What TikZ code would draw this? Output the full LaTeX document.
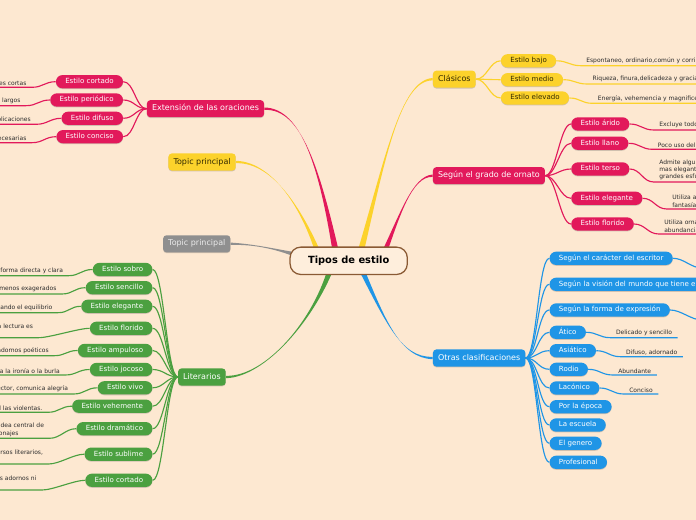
\documentclass[tikz,border=0pt]{standalone}
\usepackage{fontspec}
\newfontfamily\mapfont{DejaVu Sans}
\usetikzlibrary{calc,shadows}
\pgfdeclarelayer{paperlayer}
\pgfdeclarelayer{wirelayer}
\pgfsetlayers{paperlayer,wirelayer,main}

\definecolor{paper}{HTML}{FDE8D1}
\definecolor{rose}{HTML}{E2195B}
\definecolor{sun}{HTML}{FCD22B}
\definecolor{leafgreen}{HTML}{4BA040}
\definecolor{sky}{HTML}{1F95E6}
\definecolor{stone}{HTML}{8F8F8F}
\definecolor{hubfill}{HTML}{FEEEDC}
\definecolor{hubedge}{HTML}{8A5A34}
\definecolor{ink}{HTML}{2C2C2C}
\definecolor{sunink}{HTML}{332A00}

\tikzstyle{lift} = [drop shadow={shadow xshift=0pt, shadow yshift=-0.6pt, opacity=0.25, fill=black!70}]
\tikzstyle{hubbox} = [draw=hubedge, line width=0.95pt, fill=hubfill, rounded corners=8pt, minimum height=20.5pt, inner xsep=13.5pt, inner ysep=0pt, text height=5.4pt, text depth=1.6pt, font=\mapfont\bfseries\fontsize{7.4}{8}\selectfont]
\tikzstyle{limb} = [lift, rounded corners=2.5pt, minimum height=12.8pt, inner xsep=3.8pt, inner ysep=0pt, text height=4.4pt, text depth=1.3pt, text=white, font=\mapfont\fontsize{6}{7}\selectfont]
\tikzstyle{twig} = [lift, rounded corners=5pt, minimum height=10pt, inner xsep=7pt, inner ysep=0pt, text height=3.9pt, text depth=1.1pt, text=white, font=\mapfont\fontsize{5.3}{6}\selectfont]
\tikzstyle{leaf} = [inner xsep=4pt, inner ysep=1.2pt, text=ink, align=left, font=\mapfont\fontsize{4.5}{5.5}\selectfont]
\tikzstyle{leafl} = [leaf, anchor=south east]
\tikzstyle{leafr} = [leaf, anchor=south west]
\tikzstyle{rosebox} = [limb, fill=rose]
\tikzstyle{sunbox} = [limb, fill=sun, text=sunink]
\tikzstyle{greenbox} = [limb, fill=leafgreen]
\tikzstyle{skybox} = [limb, fill=sky]
\tikzstyle{stonebox} = [limb, fill=stone, text=white!92!black]
\tikzstyle{rosetwig} = [twig, fill=rose]
\tikzstyle{suntwig} = [twig, fill=sun, text=sunink]
\tikzstyle{greentwig} = [twig, fill=leafgreen]
\tikzstyle{skytwig} = [twig, fill=sky]
\tikzstyle{fork} = [to path={.. controls +(11,0) and +(-11,0) .. (\tikztotarget)}]
\tikzstyle{backfork} = [to path={.. controls +(-11,0) and +(11,0) .. (\tikztotarget)}]
\tikzstyle{wire} = [line width=0.85pt]

\newcommand{\mapbranch}[6]{\fill[#1] ($#2-#6$) .. controls #3 and #4 .. ($(#5)+(0,-1.2)$) -- ($(#5)+(0,1.2)$) .. controls #4 and #3 .. ($#2+#6$) -- cycle;}

\begin{document}
\begin{tikzpicture}[x=0.75pt, y=-0.75pt]

    \begin{pgfonlayer}{paperlayer}
    \fill [paper] (0,0) rectangle (696,520);
    \end{pgfonlayer}
    \useasboundingbox (0,0) rectangle (696,520);
    \clip (0,0) rectangle (696,520);
    \coordinate (lft) at (-6,0);
    \coordinate (rgt) at (702,0);

    \node (hub) [hubbox] at (348.7,260.8) {Tipos de estilo};

    \node (ext) [rosebox, anchor=east] at (264.3,108.7) {Extensión de las oraciones};
    \node (topa) [sunbox, anchor=east] at (236,162) {Topic principal};
    \node (topb) [stonebox, anchor=east] at (230.7,243.8) {Topic principal};
    \node (lit) [greenbox, anchor=east] at (226,377) {Literarios};
    \node (cla) [sunbox, anchor=west] at (432.7,79.2) {Clásicos};
    \node (orn) [rosebox, anchor=west] at (432.7,175.7) {Según el grado de ornato};
    \node (oth) [skybox, anchor=west] at (432.7,358) {Otras clasificaciones};

    % Clasicos
    \node (bajo) [suntwig, anchor=west] at (500.7,60.8) {Estilo bajo};
    \node (medio) [suntwig, anchor=west] at (500.7,79.7) {Estilo medio};
    \node (elev) [suntwig, anchor=west] at (500.7,98) {Estilo elevado};
    \node (bajol) [leafr] at (580.7,65.7) {Espontaneo, ordinario,común y corri};
    \node (mediol) [leafr] at (587,84) {Riqueza, finura,delicadeza y gracia};
    \node (elevl) [leafr] at (592.3,103.3) {Energía, vehemencia y magnifice};

    % ornato
    \node (arid) [rosetwig, anchor=west] at (571,124) {Estilo árido};
    \node (llan) [rosetwig, anchor=west] at (571,143.3) {Estilo llano};
    \node (ters) [rosetwig, anchor=west] at (571,169) {Estilo terso};
    \node (eleg) [rosetwig, anchor=west] at (571,198.3) {Estilo elegante};
    \node (flor) [rosetwig, anchor=west] at (571,224) {Estilo florido};
    \node (aridl) [leafr] at (653.7,130) {Excluye todo};
    \node (llanl) [leafr] at (652.3,149.3) {Poco uso del};
    \node (tersl) [leafr] at (653.7,182) {Admite algu\\mas elegant\\grandes esfu};
    \node (elegl) [leafr] at (666.7,209) {Utiliza a\\fantasía};
    \node (florl) [leafr] at (658.7,234) {Utiliza orna\\abundancia};

    % otras
    \node (car) [skytwig, anchor=west] at (549.3,258.3) {Según el carácter del escritor};
    \node (vis) [skytwig, anchor=west, text width=150pt, align=left] at (549.3,284.3) {Según la visión del mundo que tiene el};
    \node (for) [skytwig, anchor=west] at (549.3,310) {Según la forma de expresión};
    \node (atic) [skytwig, anchor=west] at (549.3,332.3) {Ático};
    \node (asia) [skytwig, anchor=west] at (549.3,350.7) {Asiático};
    \node (rodi) [skytwig, anchor=west] at (549.3,369.3) {Rodio};
    \node (laco) [skytwig, anchor=west] at (549.3,388) {Lacónico};
    \node (epoc) [skytwig, anchor=west] at (549.3,406.7) {Por la época};
    \node (escu) [skytwig, anchor=west] at (549.3,425) {La escuela};
    \node (gene) [skytwig, anchor=west] at (549.3,443.3) {El genero};
    \node (prof) [skytwig, anchor=west] at (549.3,462.3) {Profesional};
    \node (aticl) [leafr] at (610.4,337.7) {Delicado y sencillo};
    \node (asial) [leafr] at (620.4,356.7) {Difuso, adornado};
    \node (rodil) [leafr] at (612.7,375) {Abundante};
    \node (lacol) [leafr] at (623.7,394) {Conciso};
    \coordinate (carend) at (702,268);
    \coordinate (forend) at (702,320);

    % extension
    \node (cort) [rosetwig, anchor=east] at (123.3,81.7) {Estilo cortado};
    \node (peri) [rosetwig, anchor=east] at (123.3,100) {Estilo periódico};
    \node (difu) [rosetwig, anchor=east] at (123.3,118.3) {Estilo difuso};
    \node (conc) [rosetwig, anchor=east] at (123.3,136.7) {Estilo conciso};
    \node (cortl) [leafl] at (32,87.3) {es cortas};
    \node (peril) [leafl] at (26,105.7) {largos};
    \node (diful) [leafl] at (36.3,124.3) {plicaciones};
    \node (concl) [leafl] at (32,142.7) {ecesarias};

    % literarios
    \node (sobr) [greentwig, anchor=east] at (152.7,269.5) {Estilo sobro};
    \node (senc) [greentwig, anchor=east] at (152.7,287.7) {Estilo sencillo};
    \node (lele) [greentwig, anchor=east] at (152.7,306.3) {Estilo elegante};
    \node (lflo) [greentwig, anchor=east] at (152.7,328.3) {Estilo florido};
    \node (ampu) [greentwig, anchor=east] at (152.7,350.5) {Estilo ampuloso};
    \node (joco) [greentwig, anchor=east] at (152.7,369.5) {Estilo jocoso};
    \node (vivo) [greentwig, anchor=east] at (152.7,387.8) {Estilo vivo};
    \node (vehe) [greentwig, anchor=east] at (152.7,406.2) {Estilo vehemente};
    \node (dram) [greentwig, anchor=east] at (152.7,428.7) {Estilo dramático};
    \node (subl) [greentwig, anchor=east] at (152.7,454.2) {Estilo sublime};
    \node (lcor) [greentwig, anchor=east] at (152.7,480.3) {Estilo cortado};
    \node (sobrl) [leafl] at (68.6,275.7) {forma directa y clara};
    \node (sencl) [leafl] at (62,294) {menos exagerados};
    \node (lelel) [leafl] at (58,312.7) {lando el equilibrio};
    \node (lflol) [leafl] at (38.6,337.7) {a lectura es\\~};
    \node (ampul) [leafl] at (54.3,355.7) {adornos poéticos};
    \node (jocol) [leafl] at (65.3,375) {a la ironía o la burla};
    \node (vivol) [leafl] at (73.6,394) {ector, comunica alegría};
    \node (vehel) [leafl] at (48,412.3) {l las violentas.};
    \node (draml) [leafl] at (49.6,438.3) {idea central de\\onajes};
    \node (subll) [leafl] at (48.6,464) {ursos literarios,\\~};
    \node (lcorl) [leafl] at (42,490) {s adornos ni\\~};

    \begin{pgfonlayer}{wirelayer}
    \clip (0,0) rectangle (696,520);
    \mapbranch{rose}{(hub)+(-11.7,-2.8)}{(320,170)}{(302,108)}{ext.east}{(3.4,0)}
    \mapbranch{sun}{(hub)+(-28.7,-2.8)}{(305,215)}{(275,162)}{topa.east}{(3.2,0)}
    \mapbranch{stone}{(hub)+(-48.7,-4.8)}{(280,250)}{(255,244)}{topb.east}{(0,3)}
    \mapbranch{leafgreen}{(hub)+(-15.7,1.2)}{(315,320)}{(265,377)}{lit.east}{(3.4,0)}
    \mapbranch{sun}{(hub)+(10.3,-2.8)}{(385,160)}{(400,80)}{cla.west}{(3.4,0)}
    \mapbranch{rose}{(hub)+(33.3,-2.8)}{(400,215)}{(412,176)}{orn.west}{(3.2,0)}
    \mapbranch{sky}{(hub)+(9.3,1.2)}{(385,320)}{(400,358)}{oth.west}{(3.4,0)}

    \foreach \kid/\lf in {bajo/bajol, medio/mediol, elev/elevl} {
        \draw [wire, sun] (cla.east) to[fork] (\kid.west);
        \draw [wire, sun] (\kid.east) to[fork] (\lf.south west) -- (\lf.south west -| rgt);
    }
    \foreach \kid/\lf in {arid/aridl, llan/llanl, ters/tersl, eleg/elegl, flor/florl} {
        \draw [wire, rose] (orn.east) to[fork] (\kid.west);
        \draw [wire, rose] (\kid.east) to[fork] (\lf.south west) -- (\lf.south west -| rgt);
    }
    \foreach \kid in {car, vis, for, atic, asia, rodi, laco, epoc, escu, gene, prof}
        \draw [wire, sky] (oth.east) to[fork] (\kid.west);
    \foreach \kid/\lf in {atic/aticl, asia/asial, rodi/rodil, laco/lacol}
        \draw [wire, sky] (\kid.east) to[fork] (\lf.south west) -- (\lf.south east);
    \draw [wire, sky] (car.east) to[fork] (carend);
    \draw [wire, sky] (for.east) to[fork] (forend);

    \foreach \kid/\lf in {cort/cortl, peri/peril, difu/diful, conc/concl} {
        \draw [wire, rose] (ext.west) to[backfork] (\kid.east);
        \draw [wire, rose] (\kid.west) to[backfork] (\lf.south east) -- (\lf.south east -| lft);
    }
    \foreach \kid/\lf in {sobr/sobrl, senc/sencl, lele/lelel, lflo/lflol, ampu/ampul, joco/jocol, vivo/vivol, vehe/vehel, dram/draml, subl/subll, lcor/lcorl} {
        \draw [wire, leafgreen] (lit.west) to[backfork] (\kid.east);
        \draw [wire, leafgreen] (\kid.west) to[backfork] (\lf.south east) -- (\lf.south east -| lft);
    }
    \end{pgfonlayer}

\end{tikzpicture}
\end{document}
